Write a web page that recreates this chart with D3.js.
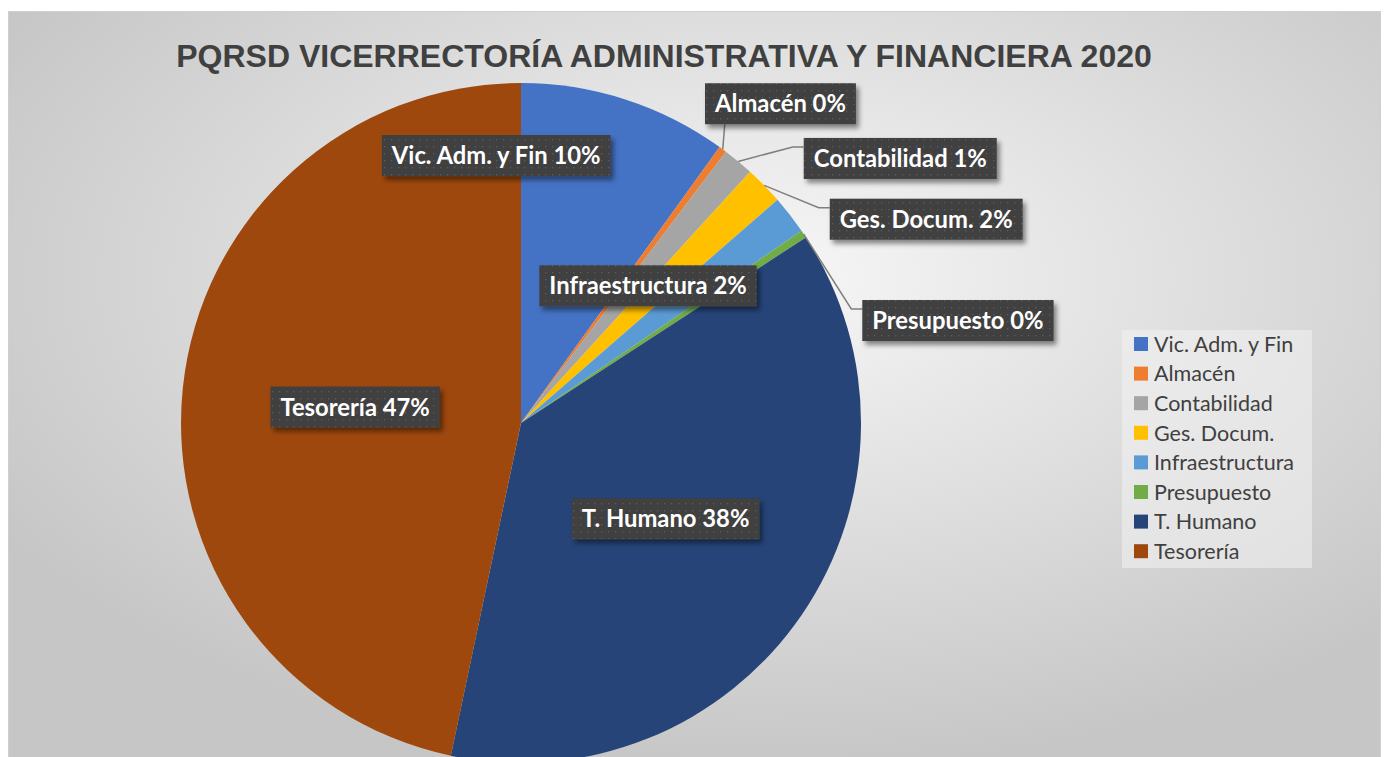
<!DOCTYPE html>
<html>
<head>
<meta charset="utf-8">
<script src="https://cdn.jsdelivr.net/npm/d3@7"></script>
<style>
  body { margin: 0; background: #fff; }
  svg { display: block; }
</style>
</head>
<body>
<script>
// data (counts per dependency)
var categories = ["Vic. Adm. y Fin", "Almacén", "Contabilidad", "Ges. Docum.",
                  "Infraestructura", "Presupuesto", "T. Humano", "Tesorería"];
var counts = [27, 1, 4, 5, 5, 1, 102, 127];
var colors = ["#4472C4", "#ED7D31", "#A5A5A5", "#FFC000",
              "#5B9BD5", "#70AD47", "#264478", "#9E480E"];
var title = "PQRSD VICERRECTORÍA ADMINISTRATIVA Y FINANCIERA 2020";

// label placement: [angle in degrees from 12 o'clock, distance as fraction of radius]
var labelPolar = [[-5.3, 0.79], [39.1, 1.21], [55.1, 1.36], [63.3, 1.334],
                  [42.8, 0.55], [76.8, 1.32], [123.5, 0.51], [275.5, 0.49]];

var W = 1386, H = 757,
    cx = 521, cy = 423, radius = 340;

var svg = d3.select("body").append("svg").attr("width", W).attr("height", H);
var defs = svg.append("defs");

var bg = defs.append("radialGradient").attr("id", "bg")
    .attr("cx", "55%").attr("cy", "35%").attr("r", "65%");
bg.append("stop").attr("offset", "0%").attr("stop-color", "#f7f7f7");
bg.append("stop").attr("offset", "100%").attr("stop-color", "#c6c6c6");

var pat = defs.append("pattern").attr("id", "dots")
    .attr("width", 7).attr("height", 7).attr("patternUnits", "userSpaceOnUse");
pat.append("rect").attr("width", 7).attr("height", 7).attr("fill", "#404040");
pat.append("rect").attr("x", 3).attr("y", 3).attr("width", 1.3).attr("height", 1.3).attr("fill", "#5c5c5c");

var sh = defs.append("filter").attr("id", "shadow")
    .attr("x", "-10%").attr("y", "-20%").attr("width", "130%").attr("height", "160%");
sh.append("feDropShadow").attr("dx", 3).attr("dy", 4).attr("stdDeviation", 2.5)
    .attr("flood-color", "#000").attr("flood-opacity", 0.45);

// chart area
svg.append("rect")
    .attr("x", 8.5).attr("y", 11.5).attr("width", 1372).attr("height", 760)
    .attr("fill", "url(#bg)").attr("stroke", "#cfcfcf");

svg.append("text")
    .attr("x", 664).attr("y", 67)
    .attr("text-anchor", "middle")
    .style("font-family", "'Liberation Sans', Arial, sans-serif")
    .style("font-weight", "bold").style("font-size", "32px")
    .attr("fill", "#404040")
    .text(title);

var total = d3.sum(counts);
var pie = d3.pie().sort(null).value(function (d) { return d; });
var arcs = pie(counts);
var arcGen = d3.arc().innerRadius(0).outerRadius(radius);
var edgeArc = d3.arc().innerRadius(radius).outerRadius(radius);

var g = svg.append("g").attr("transform", "translate(" + cx + "," + cy + ")");

g.selectAll("path.slice")
    .data(arcs)
    .enter().append("path")
    .attr("class", "slice")
    .attr("d", arcGen)
    .attr("fill", function (d, i) { return colors[i]; });

// data labels
var labelFont = "'Lato', 'Open Sans', sans-serif";
var labels = g.selectAll("g.lbl")
    .data(arcs)
    .enter().append("g")
    .attr("class", "lbl");

labels.each(function (d, i) {
    var sel = d3.select(this);
    var a = labelPolar[i][0] * Math.PI / 180,
        rr = labelPolar[i][1] * radius;
    var lx = rr * Math.sin(a), ly = -rr * Math.cos(a);
    var pct = Math.round(d.value / total * 100);

    var txt = sel.append("text")
        .attr("x", lx).attr("y", ly)
        .attr("text-anchor", "middle")
        .attr("dy", "0.36em")
        .style("font-family", labelFont)
        .style("font-weight", "bold").style("font-size", "23.8px")
        .attr("fill", "#fff")
        .text(categories[i] + " " + pct + "%");

    var tw = txt.node().getComputedTextLength(),
        bw = tw + 20, bh = 41;
    var bx = lx - bw / 2, by = ly - bh / 2;

    sel.insert("rect", "text")
        .attr("x", bx).attr("y", by).attr("width", bw).attr("height", bh)
        .attr("fill", "url(#dots)")
        .attr("filter", "url(#shadow)");

    if (labelPolar[i][1] > 1) {
        var start = edgeArc.centroid(d);
        var pts;
        if (start[0] > bx && start[0] < bx + bw) {
            pts = [start, [start[0] + 2, by + bh]];
        } else {
            var yy = by + 9;
            pts = [start, [bx - 11, yy], [bx, yy]];
        }
        g.insert("path", "g.lbl")
            .attr("d", d3.line()(pts))
            .attr("fill", "none")
            .attr("stroke", "#7f7f7f")
            .attr("stroke-width", 1.5);
    }
});

// legend
var legend = svg.append("g").attr("transform", "translate(1122,330)");
legend.append("rect")
    .attr("width", 190).attr("height", 238)
    .attr("fill", "#f2f2f2").attr("fill-opacity", 0.55);

var rowH = 29.6;
var items = legend.selectAll("g.item")
    .data(categories)
    .enter().append("g")
    .attr("class", "item")
    .attr("transform", function (d, i) { return "translate(0," + (14 + i * rowH) + ")"; });

items.append("rect")
    .attr("x", 12).attr("y", -7).attr("width", 14).attr("height", 14)
    .attr("fill", function (d, i) { return colors[i]; });

items.append("text")
    .attr("x", 32).attr("dy", "0.36em")
    .style("font-family", labelFont)
    .style("font-size", "21.5px")
    .attr("fill", "#404040")
    .text(function (d) { return d; });
</script>
</body>
</html>
